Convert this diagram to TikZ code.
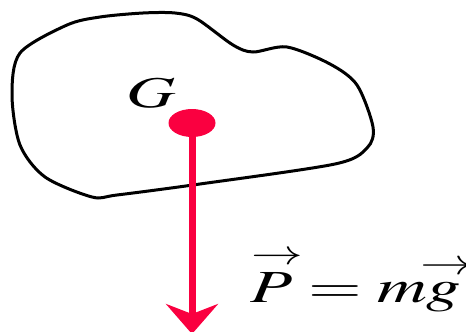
\documentclass[tikz,border=0pt]{standalone}
\usepackage{mathptmx}
\usepackage{graphicx}
\usepackage{xcolor}
\usetikzlibrary{arrows.meta}
\usetikzlibrary{shapes.geometric, math}
\definecolor{myred}{RGB}{250, 0, 64}
\newcommand{\arrowover}[4]{\mathord{\ooalign{$#1$\cr\hidewidth\kern#3\raisebox{#2}{\scalebox{#4}{$\rightarrow$}}\hidewidth\cr}}}

\begin{document}
\begin{tikzpicture}[x=0.5pt,y=-0.5pt]
\tikzmath{
\sx=1.55;%horizontal stretch of the texts
\xg=192;
\yg=123;
}
\useasboundingbox (0,0) rectangle (466,332);
%body
\coordinate (B1) at (20,53);
\coordinate (B2) at (67,25);
\coordinate (B3) at (100,17);
\coordinate (B4) at (143,13);
\coordinate (B5) at (175,13);
\coordinate (B6) at (197,19);
\coordinate (B7) at (233,45);
\coordinate (B8) at (253,52);
\coordinate (B9) at (287,47);
\coordinate (B10) at (330,64);
\coordinate (B11) at (357,85);
\coordinate (B12) at (373,127);
\coordinate (B13) at (367,148);
\coordinate (B14) at (335,164);
\coordinate (B15) at (200,184);
\coordinate (B16) at (117,195);
\coordinate (B17) at (92,197);
\coordinate (B18) at (45,177);
\coordinate (B19) at (20,145);
\coordinate (B20) at (12,95);

\draw[line width=1.5] plot[smooth cycle, tension=0.5] coordinates{(B1) (B2) (B3) (B4) (B5) (B6) (B7) (B8) (B9) (B10) (B11) (B12) (B13) (B14) (B15) (B16) (B17) (B18) (B19) (B20)};

\coordinate (PE) at (\xg,334);
\draw[line width=3.5, color=myred, -{Stealth[length=15pt, width=26pt, inset=5pt]}] (\xg,\yg) -- (PE);
\node[ellipse, fill=myred, inner sep=0, minimum width=23.5pt, minimum height=14pt] (G) at (\xg,\yg) {};

\node[anchor=base, xscale=\sx, inner sep=0, font=\fontsize{22}{26}\selectfont] (GL) at (151,107) {$G$};
\node[anchor=base west, xscale=1.5, inner sep=0, font=\fontsize{23}{27}\selectfont] (PL) at (250,302) {$\arrowover{P}{19pt}{3.7pt}{0.75} = m\arrowover{g}{14pt}{2.2pt}{0.78}$};
\end{tikzpicture}
\end{document}
